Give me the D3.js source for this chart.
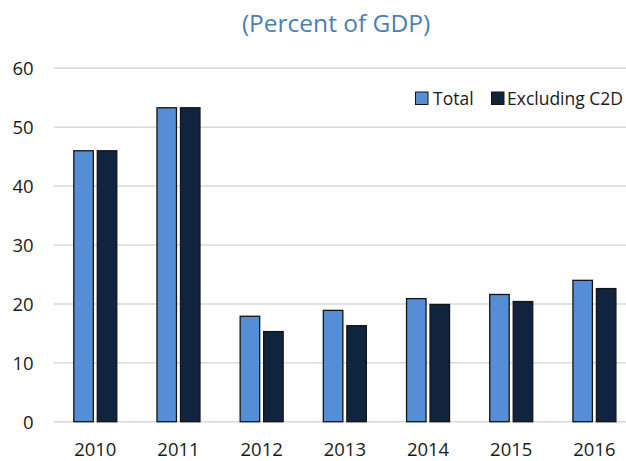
<!DOCTYPE html>
<html>
<head>
<meta charset="utf-8">
<script src="https://cdn.jsdelivr.net/npm/d3@7"></script>
<style>
  html, body { margin: 0; padding: 0; background: #fff; }
  svg { display: block; }
  text { font-family: "Open Sans", "Noto Sans", sans-serif; }
</style>
</head>
<body>
<svg id="chart" width="626" height="461"></svg>
<script>
// Chart data
const years = ["2010", "2011", "2012", "2013", "2014", "2015", "2016"];
const totalValues = [46.0, 53.3, 17.9, 18.9, 20.9, 21.6, 24.0];
const exclC2DValues = [46.0, 53.3, 15.3, 16.3, 19.9, 20.4, 22.6];
const seriesNames = ["Total", "Excluding C2D"];
const seriesColors = ["#558ed5", "#11243f"];
const yTicks = [0, 10, 20, 30, 40, 50, 60];
const titleText = "(Percent of GDP)";

const svg = d3.select("#chart");
const plot = { left: 53.7, right: 636, top: 68.3, bottom: 421.7 };

const x = d3.scaleBand().domain(years).range([plot.left, plot.right]).paddingInner(0).paddingOuter(0);
const y = d3.scaleLinear().domain([0, 60]).range([plot.bottom, plot.top]);
const xSeries = d3.scaleBand().domain(seriesNames).range([x.bandwidth() / 2 - 21.5, x.bandwidth() / 2 + 21.5]).paddingInner(0.17);

// Title
svg.append("text")
  .attr("x", 336).attr("y", 32)
  .attr("text-anchor", "middle")
  .attr("font-size", 24.5)
  .attr("fill", "#4a80b5")
  .text(titleText);

// Gridlines
svg.append("g")
  .selectAll("line")
  .data(yTicks)
  .join("line")
  .attr("x1", plot.left).attr("x2", plot.right)
  .attr("y1", d => y(d)).attr("y2", d => y(d))
  .attr("stroke", "#d9d9d9")
  .attr("stroke-width", 1.5);

// Y axis labels
const yAxis = d3.axisLeft(y).tickValues(yTicks).tickSize(0).tickPadding(0);
const gy = svg.append("g").attr("transform", `translate(${plot.left - 20},0)`).call(yAxis);
gy.select(".domain").remove();
gy.selectAll("text")
  .attr("font-family", "'Open Sans', 'Noto Sans', sans-serif")
  .attr("font-size", 18.5)
  .attr("fill", "#1a1a1a")
  .attr("dy", "0.36em");

// X axis labels
const xAxis = d3.axisBottom(x).tickSize(0).tickPadding(0);
const gx = svg.append("g").attr("transform", `translate(0,456)`).call(xAxis);
gx.select(".domain").remove();
gx.selectAll("text")
  .attr("font-family", "'Open Sans', 'Noto Sans', sans-serif")
  .attr("font-size", 18.5)
  .attr("fill", "#1a1a1a")
  .attr("dy", "0");

// Bars
const rows = years.map((yr, i) => ({ year: yr, values: [totalValues[i], exclC2DValues[i]] }));
const groups = svg.append("g").selectAll("g")
  .data(rows)
  .join("g")
  .attr("transform", d => `translate(${x(d.year)},0)`);

groups.selectAll("rect")
  .data(d => d.values.map((v, k) => ({ name: seriesNames[k], value: v, color: seriesColors[k] })))
  .join("rect")
  .attr("x", d => xSeries(d.name))
  .attr("width", xSeries.bandwidth())
  .attr("y", d => y(d.value))
  .attr("height", d => y(0) - y(d.value))
  .attr("fill", d => d.color)
  .attr("stroke", "#141414")
  .attr("stroke-width", 1.3);

// Legend
const legend = svg.append("g").attr("transform", "translate(415,105)");
const legendItems = [
  { name: seriesNames[0], color: seriesColors[0], x: 0 },
  { name: seriesNames[1], color: seriesColors[1], x: 76 }
];
const li = legend.selectAll("g").data(legendItems).join("g")
  .attr("transform", d => `translate(${d.x},0)`);
li.append("rect")
  .attr("x", 0.5).attr("y", -13)
  .attr("width", 12.5).attr("height", 12.5)
  .attr("fill", d => d.color)
  .attr("stroke", "#141414")
  .attr("stroke-width", 1);
li.append("text")
  .attr("x", d => d.x === 0 ? 18 : 16).attr("y", 0)
  .attr("font-size", 17.5)
  .attr("fill", "#1a1a1a")
  .text(d => d.name);
</script>
</body>
</html>
